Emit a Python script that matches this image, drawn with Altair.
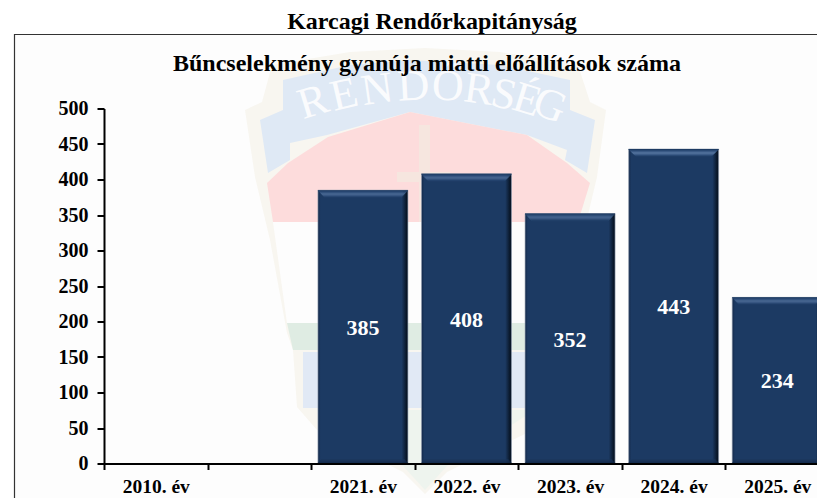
import altair as alt
import pandas as pd

FONT = "Liberation Serif"
categories = ["2010. év", " ", "2021. év", "2022. év", "2023. év", "2024. év", "2025. év"]
years = ["2021. év", "2022. év", "2023. év", "2024. év", "2025. év"]
values = [385, 408, 352, 443, 234]
y_ticks = [0, 50, 100, 150, 200, 250, 300, 350, 400, 450, 500]
main_title = "Karcagi Rendőrkapitányság"
sub_title = "Bűncselekmény gyanúja miatti előállítások száma"

OX, OY = 104, 108.5   # page position of the plot origin
PW, PH = 725, 355
UNIT = 500 / PH


def poly(color, pts):
    path = "M" + "L".join(f"{x - OX},{y - OY}" for x, y in pts) + "Z"
    return alt.Chart(pd.DataFrame({"k": [0]})).mark_point(
        shape=path, size=4, filled=True, fill=color, opacity=1, strokeWidth=0
    ).encode(x=alt.value(0), y=alt.value(0))


emblem_shapes = [
    poly("#f8f6f0", [(245, 110), (262, 102), (272, 65), (350, 52), (425, 48), (500, 52), (578, 65), (590, 102),
                     (606, 110), (597, 177), (582, 240), (565, 333), (557, 350), (553, 407), (533, 430),
                     (447, 472), (425, 494), (403, 472), (317, 430), (297, 407), (293, 350), (287, 333),
                     (270, 240), (255, 177)]),
    poly("#fdfdfd", [(273, 222), (578, 222), (563, 323), (287, 323)]),
    poly("#dfe9f5", [(260, 120), (283, 110), (283, 80), (350, 65), (410, 60), (500, 65), (570, 80), (570, 110),
                     (595, 120), (587, 173), (565, 160), (567, 150), (527, 135), (410, 112), (327, 135),
                     (290, 143), (290, 160), (268, 173)]),
    poly("#fddcdc", [(267, 183), (288, 163), (328, 137), (410, 112), (527, 135), (567, 163), (590, 183),
                     (578, 222), (273, 222)]),
    poly("#f6e6df", [(419, 125), (430, 125), (430, 172), (450, 172), (450, 182), (430, 182), (430, 222),
                     (419, 222), (419, 182), (397, 182), (397, 172), (419, 172)]),
    poly("#dfece3", [(287, 323), (563, 323), (557, 350), (293, 350)]),
    poly("#e1e9f5", [(303, 352), (545, 352), (545, 408), (303, 408)]),
    poly("#eef4ee", [(317, 410), (535, 410), (447, 466), (425, 490), (403, 466)]),
]

letters = list("RENDŐRSÉG")
letter_x = [317, 347, 379, 414, 447, 477, 501, 523, 545]
letter_y = [115, 108, 103, 100, 100, 103, 108, 113, 118]
letter_a = [343, 347, 352, 357, 3, 8, 13, 17, 22]

df = pd.DataFrame({"year": years, "value": values, "half": [v / 2 for v in values]})

top_cols = ["#1d3b63", "#2a4a75", "#3a5a86", "#4c6c97", "#4c6c97", "#3c5c88", "#2a4a75", "#1f3d66"]
bot_cols = ["#0f2542", "#142c4d", "#182f55", "#1a3459"]
rows = []
for y_, v in zip(years, values):
    for k, c in enumerate(top_cols):
        rows.append({"year": y_, "a": v - k * UNIT, "b": v - (k + 1) * UNIT, "w": 90 - 2 * k, "c": c})
    for k, c in enumerate(bot_cols):
        rows.append({"year": y_, "a": k * UNIT, "b": (k + 1) * UNIT, "w": 90 - 2 * k, "c": c})
bevel = pd.DataFrame(rows)

x_scale = alt.Scale(domain=categories, paddingInner=0, paddingOuter=0)
y_scale = alt.Scale(domain=[0, 500], nice=False)
x_axis = alt.Axis(title=None, labelAngle=0, tickBand="extent", domainColor="black", domainWidth=2,
                  tickColor="black", tickWidth=2, tickSize=6, labelFont=FONT, labelFontWeight="bold",
                  labelFontSize=19.5, labelColor="black", labelPadding=8, grid=False, zindex=1)
y_axis = alt.Axis(title=None, values=y_ticks, domainColor="black", domainWidth=2, tickColor="black",
                  tickWidth=2, tickSize=7, labelFont=FONT, labelFontWeight="bold", labelFontSize=20,
                  labelColor="black", labelPadding=9, grid=False, zindex=1, labelOverlap=False)

frame_bg = alt.Chart(pd.DataFrame({"k": [0]})).mark_rect(color="#fdfdfd").encode(
    x=alt.value(14.5 - OX), x2=alt.value(825 - OX), y=alt.value(34 - OY), y2=alt.value(498 - OY))

words = [
    alt.Chart(pd.DataFrame({"t": [t]})).mark_text(
        font=FONT, fontSize=44, color="#ffffff", opacity=0.85, baseline="alphabetic", align="center", angle=a
    ).encode(x=alt.value(px - OX), y=alt.value(py - OY), text="t:N")
    for t, px, py, a in zip(letters, letter_x, letter_y, letter_a)
]

side = alt.Gradient(gradient="linear", x1=0, x2=1, y1=0, y2=0, stops=[
    alt.GradientStop(offset=0, color="#14294a"), alt.GradientStop(offset=0.03, color="#1c3a63"),
    alt.GradientStop(offset=0.93, color="#1c3a63"), alt.GradientStop(offset=0.985, color="#081526"),
    alt.GradientStop(offset=1, color="#0a1a2e")])

bars = alt.Chart(df).mark_bar(size=90, color=side, stroke="#93a0b0", strokeWidth=0.6).encode(
    x=alt.X("year:N", scale=x_scale, axis=x_axis), y=alt.Y("value:Q", scale=y_scale, axis=y_axis))
bevel_layer = alt.Chart(bevel).mark_bar().encode(
    x=alt.X("year:N", scale=x_scale, axis=x_axis), y=alt.Y("a:Q", scale=y_scale, axis=y_axis), y2="b:Q",
    size=alt.Size("w:Q", scale=None), color=alt.Color("c:N", scale=None))
labels = alt.Chart(df).mark_text(font=FONT, fontSize=22, fontWeight="bold", color="white", dy=1).encode(
    x=alt.X("year:N", scale=x_scale, axis=x_axis), y=alt.Y("half:Q", scale=y_scale, axis=y_axis), text="value:Q")

rule_top = alt.Chart(pd.DataFrame({"k": [0]})).mark_rule(color="#333333", strokeWidth=1.2).encode(
    x=alt.value(14.5 - OX), x2=alt.value(825 - OX), y=alt.value(34.5 - OY))
rule_left = alt.Chart(pd.DataFrame({"k": [0]})).mark_rule(color="#333333", strokeWidth=1.2).encode(
    x=alt.value(14.5 - OX), y=alt.value(34 - OY), y2=alt.value(498 - OY))


def caption(text, cx, cy, size):
    return alt.Chart(pd.DataFrame({"t": [text]})).mark_text(
        font=FONT, fontSize=size, fontWeight="bold", color="black", align="center", baseline="middle"
    ).encode(x=alt.value(cx - OX), y=alt.value(cy - OY), text="t:N")


chart = alt.layer(
    frame_bg, *emblem_shapes, *words, bars, bevel_layer, labels, rule_top, rule_left,
    caption(main_title, 432, 22, 24), caption(sub_title, 427, 64, 24)
).properties(
    width=PW, height=PH, background="white",
    padding={"left": OX - 8, "top": OY - 8, "right": -12, "bottom": 498 - OY - PH},
    autosize=alt.AutoSizeParams(type="none"),
).configure_view(stroke=None)

chart.save("out.html", embed_options={"renderer": "svg", "actions": False})
